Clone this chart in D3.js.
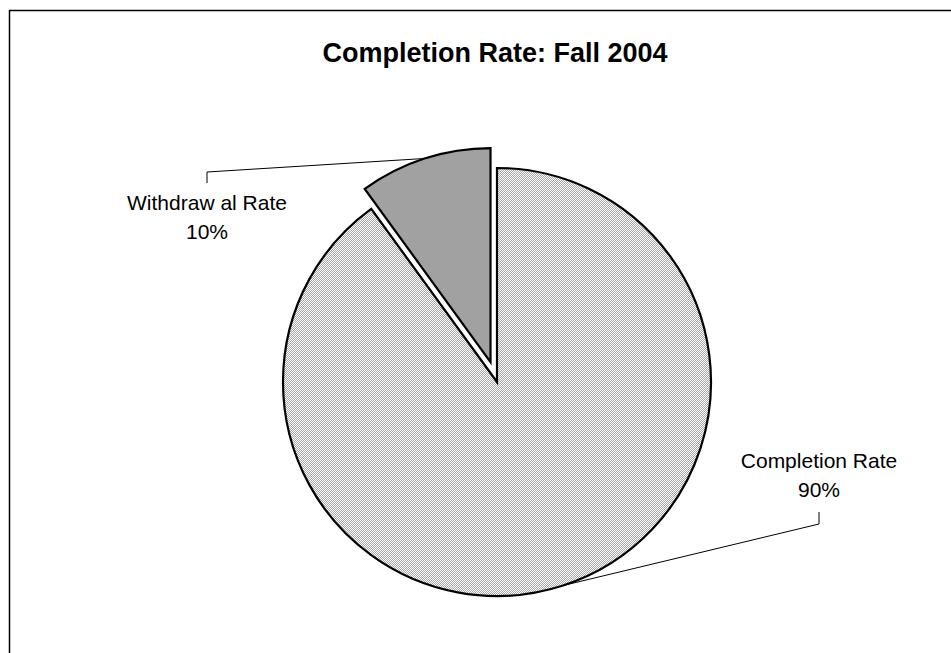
<!DOCTYPE html>
<html><head><meta charset="utf-8">
<script src="https://cdn.jsdelivr.net/npm/d3@7"></script>
<style>html,body{margin:0;padding:0;background:#fff;}svg{display:block;}</style>
</head><body>
<script>
const categories = ["Completion Rate", "Withdraw al Rate"];
const values = [90, 10];
const percentLabels = ["90%", "10%"];
const title = "Completion Rate: Fall 2004";

const W = 951, H = 653;
const svg = d3.select("body").append("svg").attr("width", W).attr("height", H);
const defs = svg.append("defs");

function checker(id, a, b) {
  const p = defs.append("pattern").attr("id", id).attr("patternUnits", "userSpaceOnUse")
    .attr("width", 2).attr("height", 2);
  p.append("rect").attr("width", 2).attr("height", 2).attr("fill", a);
  p.append("rect").attr("width", 1).attr("height", 1).attr("fill", b).attr("shape-rendering", "crispEdges");
  p.append("rect").attr("x", 1).attr("y", 1).attr("width", 1).attr("height", 1).attr("fill", b).attr("shape-rendering", "crispEdges");
}
checker("patC", "#ffffff", "#a6a6a6");
checker("patW", "#c6c6c6", "#7c7c7c");
const fills = ["url(#patC)", "url(#patW)"];

// frame
svg.append("rect").attr("x", 9.5).attr("y", 10.5).attr("width", W + 20).attr("height", H + 20)
  .attr("fill", "none").attr("stroke", "#000").attr("stroke-width", 1.5);

svg.append("text").attr("x", 495).attr("y", 62).attr("text-anchor", "middle")
  .attr("font-family", "Liberation Sans, Arial, sans-serif").attr("font-weight", "bold")
  .attr("font-size", 27).attr("fill", "#000").text(title);

const cx = 497, cy = 382, r = 214, explode = [0, 21];
const pie = d3.pie().sort(null).value(d => d);
const arcs = pie(values);
const arc = d3.arc().innerRadius(0).outerRadius(r);

const g = svg.append("g").attr("transform", `translate(${cx},${cy})`);
arcs.forEach((a, i) => {
  const mid = (a.startAngle + a.endAngle) / 2;
  const off = explode[i];
  const ox = Math.sin(mid) * off, oy = -Math.cos(mid) * off;
  g.append("path").attr("d", arc(a)).attr("transform", `translate(${ox},${oy})`)
    .attr("fill", fills[i]).attr("stroke", "#000").attr("stroke-width", 2.2)
    .attr("stroke-linejoin", "miter");
});

// labels and leader lines
const labelPos = [[819, 468, 512, 524], [207, 210, 183, 172]]; // [x, baseline1, lineStartY, elbowY]
arcs.forEach((a, i) => {
  const mid = (a.startAngle + a.endAngle) / 2;
  const off = explode[i];
  const ex = cx + Math.sin(mid) * (r + off), ey = cy - Math.cos(mid) * (r + off);
  const [lx, ly, y1, y2] = labelPos[i];
  svg.append("polyline").attr("points", `${lx},${y1} ${lx},${y2} ${ex},${ey}`)
    .attr("fill", "none").attr("stroke", "#000").attr("stroke-width", 1);
  const t = svg.append("text").attr("text-anchor", "middle")
    .attr("font-family", "Liberation Sans, Arial, sans-serif").attr("font-size", 21).attr("fill", "#000");
  t.append("tspan").attr("x", lx).attr("y", ly).text(categories[i]);
  t.append("tspan").attr("x", lx).attr("y", ly + 28.5).text(percentLabels[i]);
});
</script>
</body></html>
